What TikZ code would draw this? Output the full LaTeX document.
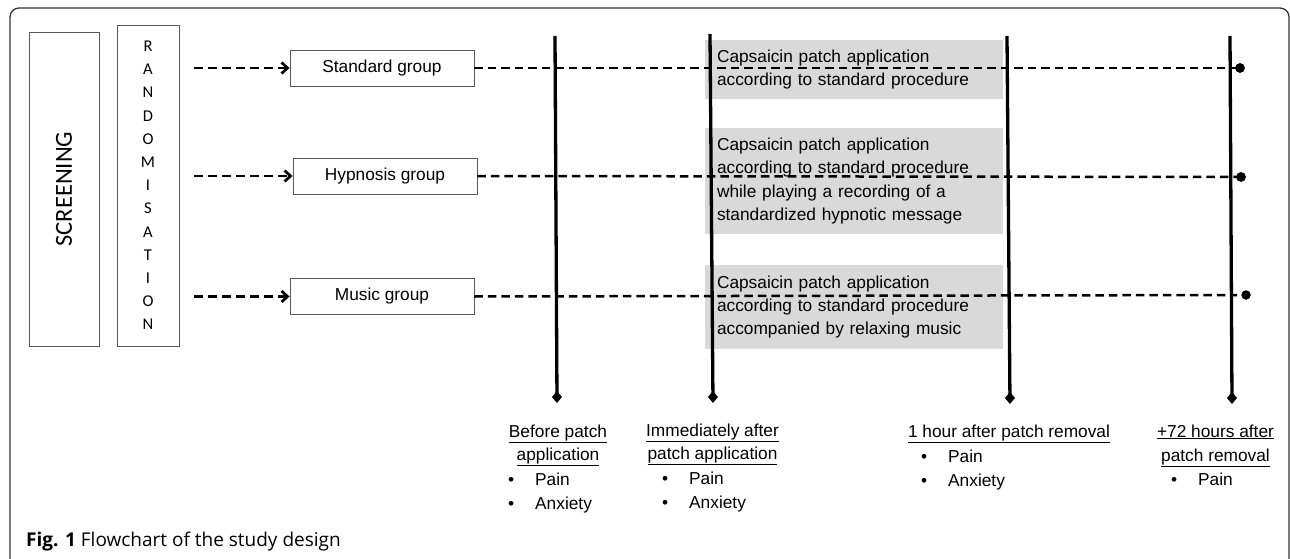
\documentclass[tikz,border=0pt]{standalone}
\usepackage{fontspec}
\setmainfont{Liberation Sans}
\newfontfamily\calib{Carlito}
\newfontfamily\opens{Open Sans}
\usetikzlibrary{arrows.meta}
\begin{document}
\begin{tikzpicture}[x=1pt,y=-1pt,
  plain/.style={draw=black!65, line width=0.9pt, inner sep=0pt},
  grp/.style={plain, minimum width=184pt, minimum height=36pt, font=\fontsize{17.3}{20}\selectfont},
  gbox/.style={fill=black!15, inner xsep=12pt, inner ysep=0pt, text width=274pt, minimum height=#1, align=left, font=\fontsize{17.3}{23.3}\selectfont},
  dsh/.style={dash pattern=on 8.5pt off 5pt, line width=2.5pt},
  rarr/.style={dash pattern=on 9pt off 5pt, line width=2.7pt, -{Straight Barb[length=6pt,width=11pt,line width=2.7pt]}},
  tl/.style={line width=3.3pt, -{Diamond[length=12pt,width=10pt]}},
  dot/.style={circle, fill=black, minimum size=9.5pt, inner sep=0pt},
  lbl/.style={anchor=base, inner sep=0pt, font=\fontsize{17.3}{20}\selectfont},
  bul/.style={anchor=base west, inner sep=0pt, font=\fontsize{17.3}{20}\selectfont}
]
\useasboundingbox (0,0) rectangle (1290,559);
\clip (0,0) rectangle (1290,559);
% outer frame
\draw[black!80, line width=1.3pt, rounded corners=9pt] (10,8) rectangle (1289,580);

% screening and randomisation
\node[plain, rotate=90, minimum width=314pt, minimum height=70pt, font=\calib\fontsize{24.5}{28}\selectfont] (scr) at (64,189) {SCREENING};
\node[plain, minimum width=62pt, minimum height=321pt, align=center, font=\calib\fontsize{16.5}{23.2}\selectfont] (rnd) at (148,185.5)
  {R\\A\\N\\D\\O\\M\\I\\S\\A\\T\\I\\O\\N};

% group boxes
\node[grp] (std) at (382,68) {Standard group};
\node[grp] (hyp) at (385,176) {Hypnosis group};
\node[grp] (mus) at (382,296.5) {Music group};

\coordinate (a1) at (194,68);
\coordinate (a2) at (194,176);
\coordinate (a3) at (194,296.5);
\draw[rarr] (a1) -- (std.west);
\draw[rarr] (a2) -- (hyp.west);
\draw[rarr] (a3) -- (mus.west);

% grey procedure boxes
\node[gbox=59pt] (g1) at (854,69.5) {Capsaicin patch application\\according to standard procedure};
\node[gbox=106pt] (g2) at (854,181) {Capsaicin patch application\\according to standard procedure\\while playing a recording of a\\standardized hypnotic message};
\node[gbox=84pt] (g3) at (854,307) {Capsaicin patch application\\according to standard procedure\\accompanied by relaxing music};

% end dots
\node[dot] (sd) at (1240,68) {};
\node[dot] (hd) at (1241,177) {};
\node[dot] (md) at (1246,295) {};

\draw[dsh] (std.east) -- (sd.center);
\draw[dsh] (hyp.east) -- (hd.center);
\draw[dsh, shorten >=9pt] (mus.east) -- (md.center);

% time lines
\coordinate (v1t) at (555,36);  \coordinate (v1b) at (557,403);
\coordinate (v2t) at (710,34);  \coordinate (v2b) at (713,403);
\coordinate (v3t) at (1007,36); \coordinate (v3b) at (1010,404);
\coordinate (v4t) at (1230,36); \coordinate (v4b) at (1232,404);
\draw[tl] (v1t) -- (v1b);
\draw[tl] (v2t) -- (v2b);
\draw[tl] (v3t) -- (v3b);
\draw[tl] (v4t) -- (v4b);
\node[dot] (sd2) at (1240,68) {};
\node[dot] (hd2) at (1241,177) {};

% bottom labels
\node[lbl] (l1a) at (558,437) {\underline{Before patch}};
\node[lbl] (l1b) at (558,460) {\underline{application}};
\node[bul] (l1c) at (508,485) {\makebox[27pt][l]{•}Pain};
\node[bul] (l1d) at (508,509) {\makebox[27pt][l]{•}Anxiety};

\node[lbl] (l2a) at (712.5,436) {\underline{Immediately after}};
\node[lbl] (l2b) at (712.5,459) {\underline{patch application}};
\node[bul] (l2c) at (662,484) {\makebox[27pt][l]{•}Pain};
\node[bul] (l2d) at (662,508) {\makebox[27pt][l]{•}Anxiety};

\node[lbl] (l3a) at (1009,437) {\underline{1 hour after patch removal}};
\node[bul] (l3c) at (921,462) {\makebox[27pt][l]{•}Pain};
\node[bul] (l3d) at (921,486) {\makebox[27pt][l]{•}Anxiety};

\node[lbl] (l4a) at (1215.5,437) {\underline{+72 hours after}};
\node[lbl] (l4b) at (1215.5,461) {\underline{patch removal}};
\node[bul] (l4c) at (1171,485) {\makebox[27pt][l]{•}Pain};

% caption
\node[anchor=base west, inner sep=0pt, font=\opens\fontsize{19}{22}\selectfont] (cap) at (26,546) {\textbf{Fig. 1} Flowchart of the study design};
\end{tikzpicture}
\end{document}
